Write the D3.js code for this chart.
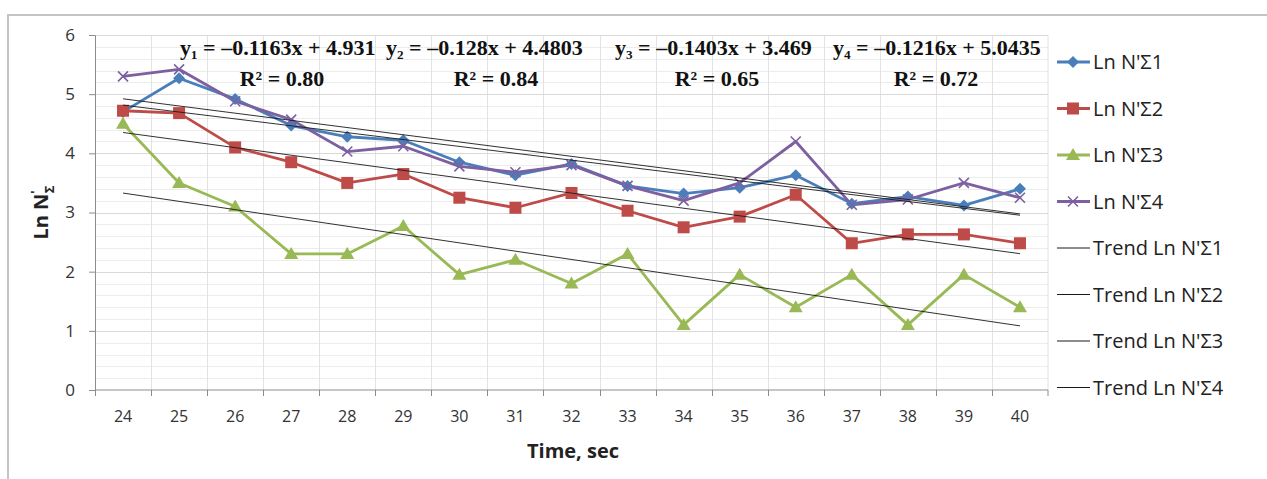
<!DOCTYPE html>
<html>
<head>
<meta charset="utf-8">
<script src="https://cdn.jsdelivr.net/npm/d3@7"></script>
<style>
  body { margin: 0; background: #fff; }
  svg { display: block; }
</style>
</head>
<body>
<svg></svg>
<script>
var width = 1267;
var height = 479;

// categories (time, sec)
var times = [24, 25, 26, 27, 28, 29, 30, 31, 32, 33, 34, 35, 36, 37, 38, 39, 40];

// series values
var ln1 = [4.70, 5.27, 4.92, 4.47, 4.28, 4.22, 3.85, 3.63, 3.82, 3.45, 3.32, 3.42, 3.63, 3.15, 3.27, 3.12, 3.40];
var ln2 = [4.72, 4.68, 4.10, 3.85, 3.50, 3.65, 3.25, 3.08, 3.33, 3.03, 2.75, 2.93, 3.30, 2.48, 2.63, 2.63, 2.48];
var ln3 = [4.50, 3.50, 3.10, 2.30, 2.30, 2.77, 1.95, 2.20, 1.80, 2.30, 1.10, 1.95, 1.40, 1.95, 1.10, 1.95, 1.40];
var ln4 = [5.30, 5.42, 4.88, 4.57, 4.03, 4.12, 3.78, 3.68, 3.80, 3.45, 3.20, 3.50, 4.20, 3.13, 3.22, 3.50, 3.25];

// trend line coefficients (y = slope * x + intercept, x = 1..17)
var slopes = [-0.1163, -0.128, -0.1403, -0.1216];
var intercepts = [4.931, 4.4803, 3.469, 5.0435];
var r2 = ["0.80", "0.84", "0.65", "0.72"];
var eqLabels = ["y\u2081 = \u20130.1163x + 4.931", "y\u2082 = \u20130.128x + 4.4803", "y\u2083 = \u20130.1403x + 3.469", "y\u2084 = \u20130.1216x + 5.0435"];

var yTicks = [0, 1, 2, 3, 4, 5, 6];
var seriesNames = ["Ln N'\u03a31", "Ln N'\u03a32", "Ln N'\u03a33", "Ln N'\u03a34"];
var colors = ["#4a7ebb", "#be4b48", "#98b954", "#7d60a0"];
var markers = ["diamond", "square", "triangle", "cross"];

var series = [ln1, ln2, ln3, ln4].map(function (vals, i) {
  return { name: seriesNames[i], color: colors[i], marker: markers[i], values: vals };
});

var sans = "'Open Sans', Lato, sans-serif";
var serif = "'Liberation Serif', 'DejaVu Serif', serif";

var svg = d3.select("svg").attr("width", width).attr("height", height);

// outer frame (only top and left edges visible)
svg.append("path")
  .attr("d", "M8,479 L8,15 L1267,15")
  .attr("fill", "none")
  .attr("stroke", "#c4c4c4")
  .attr("stroke-width", 2);

var plot = { left: 95, right: 1048, top: 35, bottom: 390 };

var x = d3.scaleBand().domain(times).range([plot.left, plot.right]);
var y = d3.scaleLinear().domain([0, 6]).range([plot.bottom, plot.top]);
var cx = function (t) { return x(t) + x.bandwidth() / 2; };

// minor grid
svg.append("g")
  .selectAll("line")
  .data(d3.range(0, 6.001, 0.2).filter(function (v) { return Math.abs(v - Math.round(v)) > 0.01; }))
  .enter().append("line")
    .attr("x1", plot.left).attr("x2", plot.right)
    .attr("y1", d => Math.round(y(d)) + 0.5).attr("y2", d => Math.round(y(d)) + 0.5)
    .attr("stroke", "#ececec");

// vertical grid
svg.append("g")
  .selectAll("line")
  .data(times.slice(1).concat(["end"]))
  .enter().append("line")
    .attr("x1", d => d === "end" ? plot.right : Math.round(x(d)) + 0.5)
    .attr("x2", d => d === "end" ? plot.right : Math.round(x(d)) + 0.5)
    .attr("y1", plot.top).attr("y2", plot.bottom)
    .attr("stroke", "#e2e2e2");

// major grid
svg.append("g")
  .selectAll("line")
  .data(yTicks.slice(1))
  .enter().append("line")
    .attr("x1", plot.left).attr("x2", plot.right)
    .attr("y1", d => Math.round(y(d)) + 0.5).attr("y2", d => Math.round(y(d)) + 0.5)
    .attr("stroke", "#d9d9d9");

// y axis
var yAxis = svg.append("g")
  .attr("transform", "translate(" + plot.left + ",0)")
  .call(d3.axisLeft(y).tickValues(yTicks).tickFormat(d3.format("d")).tickSize(6).tickPadding(14));
yAxis.select(".domain").attr("stroke", "#8c8c8c");
yAxis.selectAll(".tick line").attr("stroke", "#8c8c8c");
yAxis.selectAll("text")
  .attr("font-family", sans)
  .attr("font-size", 17)
  .attr("fill", "#333");

// x axis (ticks at band edges)
var xAxisG = svg.append("g").attr("transform", "translate(0," + plot.bottom + ")");
xAxisG.append("line")
  .attr("x1", plot.left).attr("x2", plot.right)
  .attr("stroke", "#8c8c8c");
xAxisG.selectAll(".tk")
  .data(times.concat(["end"]))
  .enter().append("line")
    .attr("class", "tk")
    .attr("x1", d => d === "end" ? plot.right : Math.round(x(d)) + 0.5)
    .attr("x2", d => d === "end" ? plot.right : Math.round(x(d)) + 0.5)
    .attr("y1", 0).attr("y2", 6)
    .attr("stroke", "#8c8c8c");
xAxisG.selectAll("text")
  .data(times)
  .enter().append("text")
    .attr("x", d => cx(d))
    .attr("y", 32)
    .attr("text-anchor", "middle")
    .attr("font-family", sans)
    .attr("font-size", 16)
    .attr("fill", "#333")
    .text(d => d);

// axis titles
svg.append("text")
  .attr("x", 573)
  .attr("y", 458)
  .attr("text-anchor", "middle")
  .attr("font-family", sans)
  .attr("font-weight", "bold")
  .attr("font-size", 20)
  .attr("fill", "#222")
  .text("Time, sec");

var yTitle = svg.append("text")
  .attr("transform", "translate(48," + ((plot.top + plot.bottom) / 2) + ") rotate(-90)")
  .attr("text-anchor", "middle")
  .attr("font-family", sans)
  .attr("font-weight", "bold")
  .attr("font-size", 20)
  .attr("fill", "#222");
yTitle.append("tspan").text("Ln N");
yTitle.append("tspan").attr("font-size", 13).attr("dy", -8).text("'");
yTitle.append("tspan").attr("font-size", 13).attr("dx", -3).attr("dy", 14).text("\u03a3");

// series lines
var line = d3.line()
  .x((d, i) => cx(times[i]))
  .y(d => y(d));

svg.append("g")
  .selectAll("path")
  .data(series)
  .enter().append("path")
    .attr("d", d => line(d.values))
    .attr("fill", "none")
    .attr("stroke", d => d.color)
    .attr("stroke-width", 2.8)
    .attr("stroke-linejoin", "round");

function drawMarker(g, type, color, px, py) {
  if (type === "diamond") {
    g.append("path")
      .attr("d", "M" + px + "," + (py - 6) + " L" + (px + 6) + "," + py + " L" + px + "," + (py + 6) + " L" + (px - 6) + "," + py + "Z")
      .attr("fill", color);
  } else if (type === "square") {
    g.append("rect")
      .attr("x", px - 6).attr("y", py - 6).attr("width", 12).attr("height", 12)
      .attr("fill", color);
  } else if (type === "triangle") {
    g.append("path")
      .attr("d", "M" + px + "," + (py - 7) + " L" + (px + 7) + "," + (py + 5) + " L" + (px - 7) + "," + (py + 5) + "Z")
      .attr("fill", color);
  } else {
    g.append("path")
      .attr("d", "M" + (px - 5) + "," + (py - 5) + " L" + (px + 5) + "," + (py + 5) + " M" + (px - 5) + "," + (py + 5) + " L" + (px + 5) + "," + (py - 5))
      .attr("stroke", color)
      .attr("stroke-width", 1.6);
  }
}

var markerG = svg.append("g");
series.forEach(function (s) {
  s.values.forEach(function (v, i) {
    drawMarker(markerG, s.marker, s.color, cx(times[i]), y(v));
  });
});

// trend lines
svg.append("g")
  .selectAll("line")
  .data(slopes)
  .enter().append("line")
    .attr("x1", cx(times[0]))
    .attr("x2", cx(times[times.length - 1]))
    .attr("y1", (d, i) => y(d * 1 + intercepts[i]))
    .attr("y2", (d, i) => y(d * times.length + intercepts[i]))
    .attr("stroke", "#1a1a1a")
    .attr("stroke-width", 0.9);

// trend equations
var eqX = [180, 386, 615, 833];
var r2X = [282, 496, 717, 936];
eqLabels.forEach(function (lbl, i) {
  svg.append("text")
    .attr("x", eqX[i]).attr("y", 55)
    .attr("font-family", serif)
    .attr("font-weight", "bold")
    .attr("font-size", 22)
    .attr("fill", "#111")
    .text(lbl);
  svg.append("text")
    .attr("x", r2X[i]).attr("y", 86)
    .attr("text-anchor", "middle")
    .attr("font-family", serif)
    .attr("font-weight", "bold")
    .attr("font-size", 22)
    .attr("fill", "#111")
    .text("R\u00b2 = " + r2[i]);
});

// legend
var legendItems = series.map(function (s) { return { name: s.name, color: s.color, marker: s.marker }; })
  .concat(seriesNames.map(function (n) { return { name: "Trend " + n, color: "#1a1a1a", marker: null }; }));

var legend = svg.append("g");
legendItems.forEach(function (d, i) {
  var ly = 62 + i * 46.5;
  legend.append("line")
    .attr("x1", 1057).attr("x2", 1090)
    .attr("y1", ly).attr("y2", ly)
    .attr("stroke", d.color)
    .attr("stroke-width", d.marker ? 2.8 : 1);
  if (d.marker) drawMarker(legend, d.marker, d.color, 1073, ly);
  legend.append("text")
    .attr("x", 1093).attr("y", ly + 7)
    .attr("font-family", sans)
    .attr("font-size", 20)
    .attr("fill", "#222")
    .text(d.name);
});
</script>
</body>
</html>
